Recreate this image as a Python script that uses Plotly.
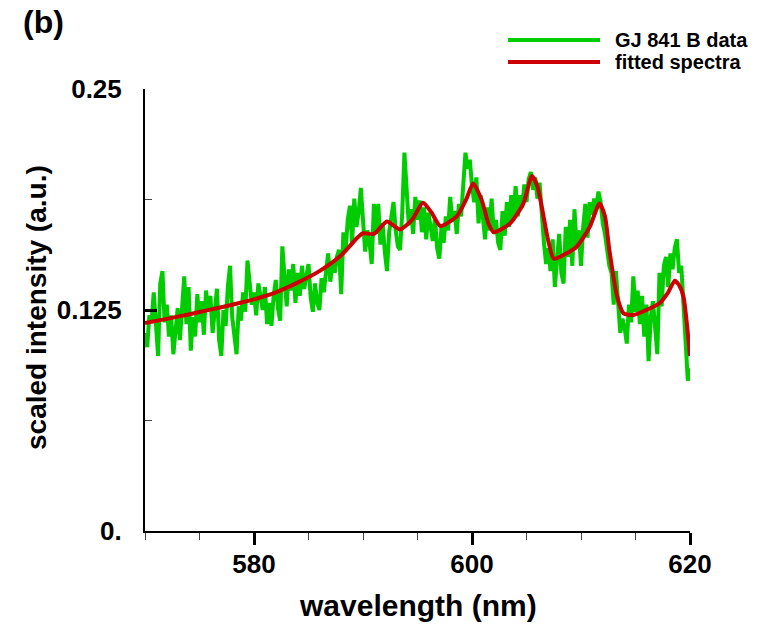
import plotly.graph_objects as go

# ---------------- data ----------------
wl_start = 570.0
wl_step = 0.2
data_intensity = [
    # 570.0 - 579.8
    0.112, 0.104, 0.122, 0.118, 0.135, 0.112, 0.099, 0.140, 0.147, 0.118,
    0.128, 0.110, 0.122, 0.100, 0.115, 0.126, 0.108, 0.131, 0.144, 0.117,
    0.138, 0.102, 0.121, 0.110, 0.134, 0.118, 0.130, 0.111, 0.136, 0.124,
    0.133, 0.112, 0.128, 0.137, 0.108, 0.099, 0.125, 0.116, 0.138, 0.150,
    0.121, 0.110, 0.100, 0.127, 0.119, 0.135, 0.124, 0.153, 0.141, 0.128,
    # 580.0 - 589.8
    0.135, 0.122, 0.140, 0.131, 0.125, 0.138, 0.117, 0.129, 0.116, 0.133,
    0.142, 0.126, 0.119, 0.161, 0.145, 0.127, 0.148, 0.136, 0.151, 0.129,
    0.146, 0.133, 0.150, 0.137, 0.144, 0.151, 0.132, 0.124, 0.140, 0.129,
    0.125, 0.143, 0.135, 0.148, 0.157, 0.141, 0.152, 0.146, 0.155, 0.159,
    0.134, 0.169, 0.158, 0.176, 0.184, 0.163, 0.188, 0.172, 0.180, 0.194,
    # 590.0 - 599.8
    0.176, 0.158, 0.170, 0.163, 0.151, 0.185, 0.168, 0.185, 0.162, 0.174,
    0.158, 0.147, 0.169, 0.178, 0.186, 0.170, 0.161, 0.159, 0.180, 0.214,
    0.196, 0.173, 0.182, 0.168, 0.189, 0.176, 0.187, 0.169, 0.183, 0.165,
    0.180, 0.171, 0.164, 0.177, 0.160, 0.154, 0.172, 0.163, 0.178, 0.170,
    0.189, 0.175, 0.181, 0.168, 0.185, 0.178, 0.196, 0.214, 0.205, 0.210,
    # 600.0 - 609.8
    0.195, 0.186, 0.200, 0.174, 0.190, 0.178, 0.165, 0.183, 0.170, 0.188,
    0.168, 0.176, 0.163, 0.159, 0.181, 0.167, 0.186, 0.172, 0.190, 0.176,
    0.195, 0.178, 0.190, 0.183, 0.196, 0.186, 0.199, 0.203, 0.193, 0.200,
    0.188, 0.197, 0.178, 0.163, 0.151, 0.160, 0.147, 0.165, 0.138, 0.157,
    0.168, 0.146, 0.140, 0.172, 0.155, 0.176, 0.150, 0.182, 0.161, 0.170,
    # 610.0 - 620.0
    0.150, 0.172, 0.185, 0.166, 0.186, 0.179, 0.188, 0.183, 0.192, 0.186,
    0.174, 0.168, 0.160, 0.150, 0.146, 0.128, 0.147, 0.125, 0.112, 0.120,
    0.115, 0.106, 0.128, 0.118, 0.144, 0.124, 0.136, 0.117, 0.133, 0.110,
    0.128, 0.096, 0.121, 0.130, 0.112, 0.100, 0.146, 0.127, 0.150, 0.155,
    0.138, 0.157, 0.148, 0.160, 0.165, 0.146, 0.150, 0.131, 0.110, 0.085,
    0.092,
]
data_wavelength = [round(wl_start + wl_step * i, 2) for i in range(len(data_intensity))]

fit_wavelength = [570, 572, 574, 576, 578, 580, 582, 584, 586, 588, 589.5, 590, 591,
                  592.2, 593.4, 594.5, 595.5, 596.3, 597.1, 598.6, 599.5, 600.1, 600.9,
                  601.5, 602.0, 603.5, 604.7, 605.5, 606.0, 606.4, 607.0, 607.5, 608.5,
                  609.6, 610.8, 611.7, 612.2, 612.6, 613.3, 613.9, 614.8, 616.0, 617.2,
                  618.0, 618.6, 619.0, 619.4, 620.0]
fit_intensity = [0.1176, 0.1200, 0.1225, 0.1252, 0.1280, 0.1310, 0.1350, 0.1405, 0.1470,
                 0.1560, 0.1660, 0.1684, 0.1680, 0.1750, 0.1706, 0.1760, 0.1857, 0.1800,
                 0.1725, 0.1780, 0.1880, 0.1966, 0.1870, 0.1740, 0.1690, 0.1740, 0.1850,
                 0.2008, 0.1950, 0.1834, 0.1640, 0.1540, 0.1565, 0.1608, 0.1720, 0.1853,
                 0.1780, 0.1590, 0.1330, 0.1231, 0.1222, 0.1250, 0.1288, 0.1350, 0.1416,
                 0.1390, 0.1325, 0.0990]

series_names = ["GJ 841 B data", "fitted spectra"]
series_colors = ["#00cc00", "#cc0000"]

x_tickvals = [580, 600, 620]
y_tickvals = [0, 0.125, 0.25]
y_ticktext = ["0.", "0.125", "0.25"]

FONT = "Liberation Sans, Arial, sans-serif"

fig = go.Figure()
fig.add_trace(go.Scatter(x=data_wavelength, y=data_intensity, mode="lines",
                         name=series_names[0],
                         line=dict(color=series_colors[0], width=4)))
fig.add_trace(go.Scatter(x=fit_wavelength, y=fit_intensity, mode="lines",
                         name=series_names[1],
                         line=dict(color=series_colors[1], width=4, shape="spline", smoothing=0.6)))

L, R, T, B = 145, 73, 89, 99
W, H = 763, 630
pw, ph = W - L - R, H - T - B

def px(xpix):
    return (xpix - L) / pw

def py(ypix):
    return (H - B - ypix) / ph

fig.update_layout(
    width=W, height=H,
    margin=dict(l=L, r=R, t=T, b=B),
    plot_bgcolor="white", paper_bgcolor="white",
    showlegend=False,
    font=dict(family=FONT, color="black"),
)
fig.update_xaxes(
    range=[570, 620], tickvals=x_tickvals, ticks="outside", ticklen=12, tickwidth=3,
    tickcolor="black", showline=True, linecolor="black", linewidth=2,
    showgrid=False, zeroline=False,
    tickfont=dict(family=FONT, size=26, weight="bold", color="black"),
    ticklabelstandoff=-3,
    minor=dict(tick0=570, dtick=5, ticks="outside", ticklen=7, tickwidth=1, tickcolor="#444"),
)
fig.update_yaxes(
    range=[0, 0.25], tickvals=y_tickvals, ticktext=y_ticktext, ticks="inside", ticklen=12,
    tickwidth=3, tickcolor="black", showline=True, linecolor="black", linewidth=2,
    showgrid=False, zeroline=False,
    tickfont=dict(family=FONT, size=26, weight="bold", color="black"),
    ticklabelstandoff=16,
    minor=dict(tickvals=[0.0625, 0.1875], ticks="inside", ticklen=7, tickwidth=1, tickcolor="#444"),
)

# axis titles and panel label
fig.add_annotation(text="wavelength (nm)", xref="paper", yref="paper", x=0.5, y=py(605),
                   xanchor="center", yanchor="middle", showarrow=False,
                   font=dict(family=FONT, size=30, weight="bold"))
fig.add_annotation(text="scaled intensity (a.u.)", xref="paper", yref="paper", x=px(36),
                   y=py(308), textangle=-90, xanchor="center", yanchor="middle",
                   showarrow=False, font=dict(family=FONT, size=28, weight="bold"))
fig.add_annotation(text="(b)", xref="paper", yref="paper", x=px(43), y=py(22),
                   xanchor="center", yanchor="middle", showarrow=False,
                   font=dict(family=FONT, size=32, weight="bold"))

# legend drawn manually (long line samples as in the original)
for i, (name, col) in enumerate(zip(series_names, series_colors)):
    yy = py(40 + 22 * i)
    fig.add_shape(type="line", xref="paper", yref="paper", x0=px(508), x1=px(600),
                  y0=yy, y1=yy, line=dict(color=col, width=4))
    fig.add_annotation(text=name, xref="paper", yref="paper", x=px(613), y=yy,
                       xanchor="left", yanchor="middle", showarrow=False,
                       font=dict(family=FONT, size=20, weight="bold"))

fig.write_html("out.html")
